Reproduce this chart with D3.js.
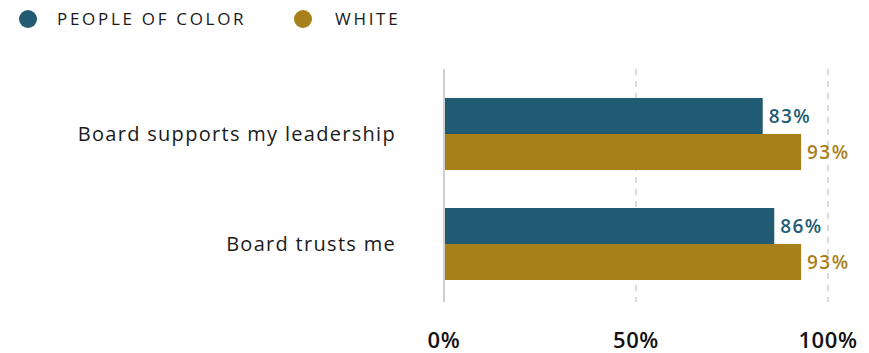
<!DOCTYPE html>
<html><head><meta charset="utf-8">
<script src="https://cdn.jsdelivr.net/npm/d3@7"></script>
<style>
body{margin:0;background:#fff;}
svg{display:block;font-family:"Open Sans","Noto Sans",sans-serif;}
</style></head>
<body>
<svg id="chart" width="869" height="353"></svg>
<script>
const categories = ["Board supports my leadership", "Board trusts me"];
const seriesNames = ["PEOPLE OF COLOR", "WHITE"];
const peopleOfColor = [83, 86];
const white = [93, 93];
const tickValues = [0, 50, 100];
const colors = ["#215b73", "#a8801b"];

const svg = d3.select("#chart");
const x = d3.scaleLinear().domain([0, 100]).range([444, 828]);
const y = d3.scaleBand().domain(categories).range([79, 299]).paddingInner(38/110).paddingOuter(0.1727);
const yi = d3.scaleBand().domain(seriesNames).range([0, y.bandwidth()]);

const data = categories.map((c, i) => ({cat: c, vals: [peopleOfColor[i], white[i]]}));

// gridlines
svg.append("g").selectAll("line").data(tickValues.filter(t => t > 0)).join("line")
  .attr("x1", d => x(d)).attr("x2", d => x(d)).attr("y1", 69).attr("y2", 302)
  .attr("stroke", "#d0d0d0").attr("stroke-width", 1.5).attr("stroke-dasharray", "6,6");

// bars
const g = svg.append("g").selectAll("g").data(data).join("g")
  .attr("transform", d => `translate(0,${y(d.cat)})`);
g.selectAll("rect").data(d => d.vals.map((v, j) => ({v, j}))).join("rect")
  .attr("x", x(0)).attr("y", d => yi(seriesNames[d.j]))
  .attr("width", d => x(d.v) - x(0)).attr("height", yi.bandwidth())
  .attr("fill", d => colors[d.j]);
g.selectAll("text.val").data(d => d.vals.map((v, j) => ({v, j}))).join("text")
  .attr("class", "val")
  .attr("x", d => x(d.v) + 6).attr("y", d => yi(seriesNames[d.j]) + yi.bandwidth() / 2)
  .attr("dy", "0.36em").attr("fill", d => colors[d.j])
  .attr("font-size", 19).attr("font-weight", 600).attr("letter-spacing", 1.4)
  .text(d => d.v + "%");

// zero axis line
svg.append("line").attr("x1", x(0)).attr("x2", x(0)).attr("y1", 69).attr("y2", 302)
  .attr("stroke", "#cfcfcf").attr("stroke-width", 2);

// category labels
svg.append("g").selectAll("text").data(categories).join("text")
  .attr("x", 396).attr("y", d => y(d) + y.bandwidth() / 2)
  .attr("dy", "0.35em").attr("text-anchor", "end")
  .attr("font-size", 20).attr("letter-spacing", 1.3).attr("fill", "#1a1a1a")
  .text(d => d);

// x tick labels
svg.append("g").selectAll("text").data(tickValues).join("text")
  .attr("x", d => x(d)).attr("y", 348).attr("text-anchor", "middle")
  .attr("font-size", 22).attr("font-weight", 600).attr("letter-spacing", 0.6).attr("fill", "#111")
  .text(d => d + "%");

// legend
const legX = [28, 303];
const leg = svg.append("g").selectAll("g").data(seriesNames).join("g")
  .attr("transform", (d, i) => `translate(${legX[i]},19)`);
leg.append("circle").attr("r", 9).attr("fill", (d, i) => colors[i]);
leg.append("text").attr("x", (d, i) => i === 0 ? 29 : 32).attr("dy", "0.36em")
  .attr("font-size", 17).attr("letter-spacing", 2.7).attr("fill", "#1a1a1a")
  .text(d => d);
</script>
</body></html>
